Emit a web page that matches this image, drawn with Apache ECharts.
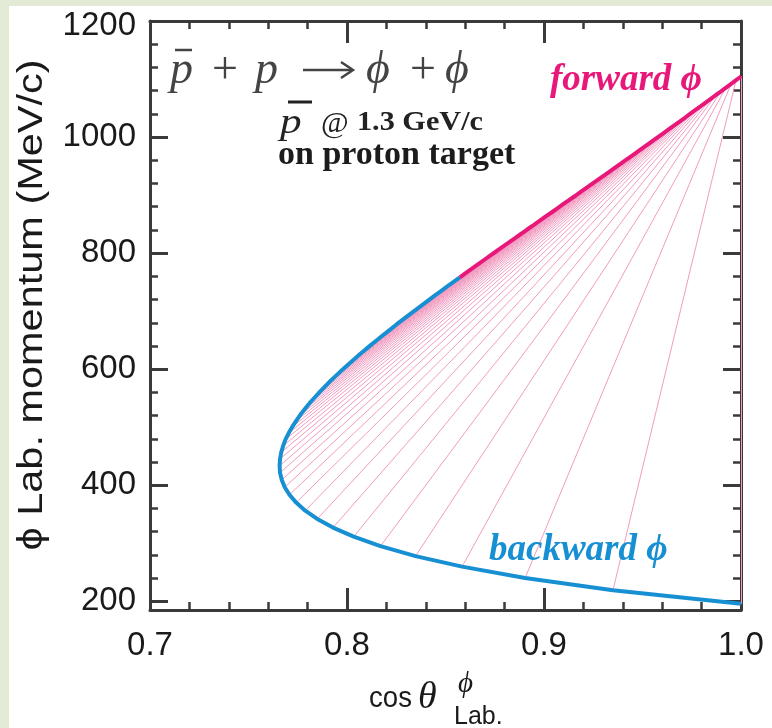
<!DOCTYPE html>
<html><head><meta charset="utf-8">
<script src="https://cdn.jsdelivr.net/npm/echarts@6/dist/echarts.min.js"></script>
<style>html,body{margin:0;padding:0;background:#fff}#c{width:772px;height:728px}</style>
</head><body><div id="c"></div>
<script>
// Forward / backward phi branch (lab cos theta, lab momentum MeV/c), paired point by point
const fwdCos = [0.8573,0.8604,0.8636,0.8668,0.8699,0.8730,0.8762,0.8793,0.8824,0.8855,0.8886,0.8916,0.8947,0.8977,0.9007,0.9038,0.9068,0.9097,0.9127,0.9157,0.9186,0.9215,0.9244,0.9273,0.9302,0.9331,0.9359,0.9388,0.9416,0.9444,0.9472,0.9500,0.9527,0.9555,0.9582,0.9609,0.9636,0.9663,0.9690,0.9717,0.9743,0.9769,0.9796,0.9822,0.9848,0.9873,0.9899,0.9924,0.9950,0.9975,1.0000];
const fwdP = [758.2,766.0,773.7,781.4,789.0,796.6,804.1,811.6,819.0,826.4,833.8,841.1,848.4,855.6,862.9,870.0,877.2,884.3,891.4,898.4,905.4,912.4,919.4,926.3,933.2,940.1,946.9,953.7,960.5,967.3,974.0,980.8,987.5,994.1,1000.8,1007.4,1014.0,1020.6,1027.1,1033.7,1040.2,1046.7,1053.2,1059.6,1066.1,1072.5,1078.9,1085.3,1091.7,1098.0,1104.4];
const bwdCos = [0.8573,0.8541,0.8509,0.8477,0.8445,0.8413,0.8381,0.8349,0.8317,0.8285,0.8253,0.8222,0.8190,0.8159,0.8127,0.8096,0.8065,0.8035,0.8005,0.7975,0.7946,0.7917,0.7889,0.7862,0.7836,0.7810,0.7786,0.7763,0.7742,0.7722,0.7704,0.7688,0.7676,0.7666,0.7660,0.7658,0.7660,0.7669,0.7684,0.7708,0.7742,0.7788,0.7849,0.7929,0.8034,0.8170,0.8348,0.8584,0.8904,0.9350,1.0000];
const bwdP = [758.2,750.4,742.5,734.6,726.6,718.6,710.5,702.3,694.1,685.8,677.5,669.0,660.5,651.9,643.2,634.5,625.6,616.7,607.7,598.6,589.3,580.0,570.5,560.9,551.2,541.4,531.4,521.3,511.0,500.5,489.9,479.0,468.0,456.7,445.2,433.5,421.5,409.2,396.5,383.5,370.1,356.2,341.9,327.0,311.4,295.1,277.9,259.7,240.1,219.0,195.7];

const xTickLabels = ['0.7','0.8','0.9','1.0'];
const yMajorTicks = [200,400,600,800,1000,1200];
const yMinorTicks = [240,280,320,360,440,480,520,560,640,680,720,760,840,880,920,960,1040,1080,1120,1160];

const forwardCurve = fwdCos.map((x,i)=>[x,fwdP[i]]);
const backwardCurve = bwdCos.map((x,i)=>[x,bwdP[i]]);
const fan = [];
for (let i=1;i<fwdCos.length;i++) fan.push({coords:[[fwdCos[i],fwdP[i]],[bwdCos[i],bwdP[i]]]});

const AX = '#3a3a3a';
const SANS = 'Liberation Sans, Arial, sans-serif';
const LBL = {fontSize:33, fontFamily:SANS, color:'#1a1a1a'};
function xAx(pos, lab){
  return {type:'value', position:pos, gridIndex:0, min:0.7, max:1.0, interval:0.1,
    axisLine:{show:true, onZero:false, lineStyle:{color:AX,width:3}},
    axisTick:{show:true, inside:true, length:22, lineStyle:{color:AX,width:3}},
    minorTick:{show:true, splitNumber:5, length:8, lineStyle:{color:AX,width:2.5}},
    splitLine:{show:false}, minorSplitLine:{show:false},
    axisLabel: lab ? Object.assign({margin:19, formatter:v=>xTickLabels[Math.round((v-0.7)*10)]}, LBL) : {show:false}};
}
function yAx(pos, vals, len, lab, line){
  return {type:'value', position:pos, gridIndex:0, min:185, max:1200, offset:0,
    axisLine:{show:line, onZero:false, lineStyle:{color:AX,width:3}},
    axisTick:{show:true, inside:true, length:len, customValues:vals, lineStyle:{color:AX,width:len>10?3:2.5}},
    splitLine:{show:false},
    axisLabel: lab ? Object.assign({margin:14, customValues:vals,
        formatter:v=> v===1200 ? '{top|1200}' : String(v),
        rich:{top:{fontSize:33, fontFamily:SANS, color:'#1a1a1a', padding:[10,0,0,0]}}}, LBL) : {show:false}};
}
const serif = 'Liberation Serif, Times New Roman, DejaVu Serif, serif';
function t(x,y,text,opt,extra){
  return Object.assign({type:'text', x:x, y:y, z:100, style:Object.assign({text:text, verticalAlign:'middle'}, opt)}, extra||{});
}
const chart = echarts.init(document.getElementById('c'), null, {renderer:'canvas'});
chart.setOption({
  animation:false,
  backgroundColor:'#ffffff',
  grid:{left:150, right:31, top:21, bottom:118, containLabel:false},
  xAxis:[xAx('bottom',true), xAx('top',false)],
  yAxis:[yAx('left',yMajorTicks,18,true,true), yAx('left',yMinorTicks,8,false,false),
         yAx('right',yMajorTicks,18,false,true), yAx('right',yMinorTicks,8,false,false)],
  series:[
    {type:'lines', coordinateSystem:'cartesian2d', xAxisIndex:0, yAxisIndex:0, data:fan, silent:true, z:1,
     lineStyle:{color:'#f29cc1', width:1, opacity:1, curveness:0}},
    {type:'line', xAxisIndex:0, yAxisIndex:0, data:backwardCurve, showSymbol:false, symbol:'none', z:2,
     lineStyle:{color:'#178fd3', width:4}},
    {type:'line', xAxisIndex:0, yAxisIndex:0, data:forwardCurve, showSymbol:false, symbol:'none', z:3,
     lineStyle:{color:'#e8177a', width:4}}
  ],
  graphic:{elements:[
    {type:'rect', shape:{x:0,y:0,width:772,height:6}, style:{fill:'#e3ebd7'}, z:0},
    {type:'rect', shape:{x:0,y:0,width:9,height:728}, style:{fill:'#e3ebd7'}, z:0},
    // reaction title
    t(170,71,'p',{font:'italic 46px '+serif, fill:'#444'}),
    {type:'line', shape:{x1:175,y1:50,x2:192,y2:50}, style:{stroke:'#444', lineWidth:2.5}, z:100},
    t(212,71,'+',{font:'46px '+serif, fill:'#444'}),
    t(255,71,'p',{font:'italic 46px '+serif, fill:'#444'}),
    {type:'line', shape:{x1:303,y1:70,x2:351,y2:70}, style:{stroke:'#444', lineWidth:2.5}, z:100},
    {type:'polyline', shape:{points:[[341,62],[353,70],[341,78]]}, style:{stroke:'#444', lineWidth:2.5, fill:null}, z:100},
    t(366,71,'\u03d5',{font:'italic 46px '+serif, fill:'#444'}),
    t(410,71,'+',{font:'46px '+serif, fill:'#444'}),
    t(445,71,'\u03d5',{font:'italic 46px '+serif, fill:'#444'}),
    // beam
    t(280,124,'p',{font:'italic 36px '+serif, fill:'#222'},{scaleX:1.2}),
    {type:'line', shape:{x1:288,y1:102,x2:312,y2:102}, style:{stroke:'#222', lineWidth:3}, z:100},
    t(321,124,'@',{font:'30px '+serif, fill:'#222'}),
    t(357,123,'1.3 GeV/c',{font:'bold 27px '+serif, fill:'#222'},{scaleX:1.12}),
    t(278,155,'on proton target',{font:'bold 34px '+serif, fill:'#1c1c1c'}),
    // branch labels
    t(550,80,'forward \u03d5',{font:'bold italic 37px '+serif, fill:'#e8177a'}),
    t(489,550,'backward \u03d5',{font:'bold italic 37px '+serif, fill:'#178fd3'}),
    // y axis name
    {type:'text', x:32, y:305, rotation:Math.PI/2, scaleX:1.185, z:100,
     style:{text:'\u03d5 Lab. momentum (MeV/c)', font:'35px '+SANS, fill:'#1a1a1a', align:'center', verticalAlign:'middle'}},
    // x axis name
    t(369,699,'cos',{font:'30px '+SANS, fill:'#1a1a1a'},{scaleX:0.92}),
    t(418,698,'\u03b8',{font:'italic 38px '+serif, fill:'#1a1a1a'}),
    t(458,684,'\u03d5',{font:'italic 29px '+serif, fill:'#1a1a1a'}),
    t(454,717,'Lab.',{font:'25px '+SANS, fill:'#1a1a1a'})
  ]}
});
</script></body></html>
